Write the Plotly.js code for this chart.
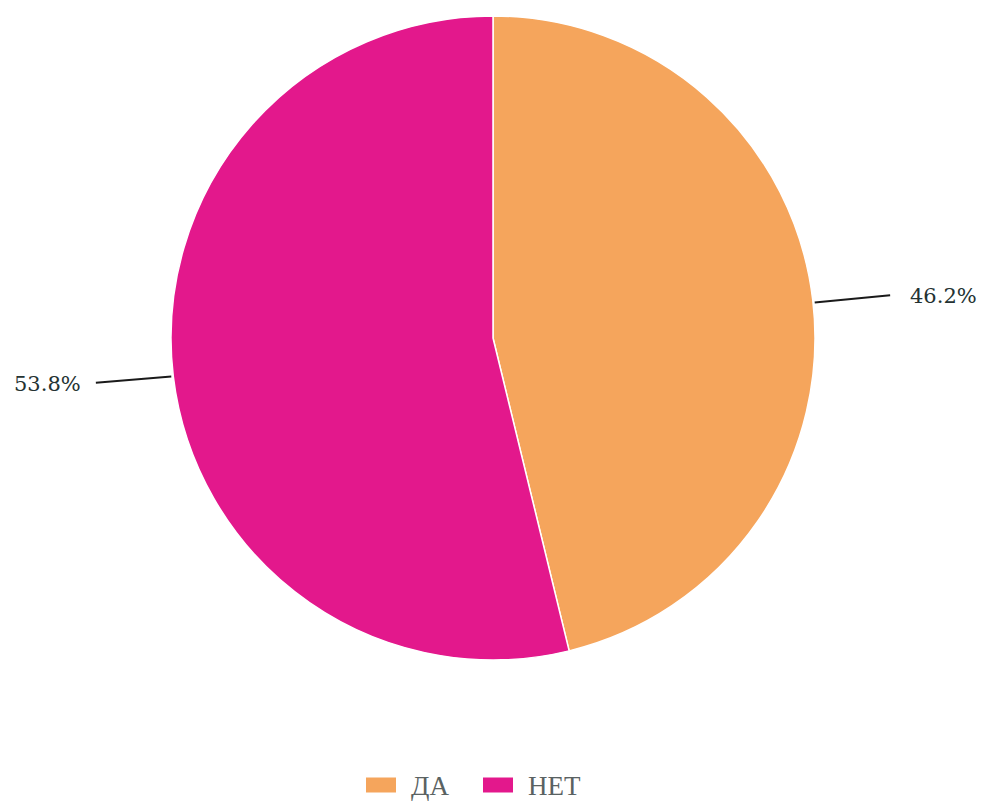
<!DOCTYPE html>
<html>
<head>
<meta charset="utf-8">
<script src="https://cdn.plot.ly/plotly-3.0.1.min.js"></script>
<style>html,body{margin:0;padding:0;background:#fff;}#chart{width:986px;height:801px;}</style>
</head>
<body>
<div id="chart"></div>
<script>
// Data
const categories = ['ДА', 'НЕТ'];
const values = [46.2, 53.8];
const colors = ['#F5A55C', '#E3188C'];
const valueLabels = ['46.2%', '53.8%'];

// Layout geometry
const W = 986, H = 801;
const margin = {l: 0, r: 0, t: 16, b: 141};
const plotW = W - margin.l - margin.r;
const plotH = H - margin.t - margin.b;
const R = Math.min(plotW, plotH) / 2;
const cxPx = plotW / 2, cyPx = plotH / 2;

// plot-area pixels -> paper coordinates
function toPaper(px, py) {
  return {x: px / plotW, y: 1 - py / plotH};
}

// Leader lines and labels computed from slice mid-angles (clockwise from 12 o'clock)
const total = values.reduce((a, b) => a + b, 0);
const shapes = [];
const annotations = [];
let cum = 0;
values.forEach((v, i) => {
  const mid = (cum + v / 2) / total * 2 * Math.PI;
  cum += v;
  const sx = Math.sin(mid), sy = -Math.cos(mid);
  const right = sx >= 0;
  const sPx = cxPx + (R + 2) * sx;
  const sPy = cyPx + (R + 2) * sy + (right ? 3 : 0);
  const endPx = cxPx + (R + 78) * sx;
  const endPy = cyPx + (R + 78) * sy + (right ? 5 : -3);
  const p0 = toPaper(sPx, sPy);
  const p1 = toPaper(endPx, endPy);
  shapes.push({type: 'line', xref: 'paper', yref: 'paper', x0: p0.x, y0: p0.y, x1: p1.x, y1: p1.y,
    line: {color: '#1a1a1a', width: 2}});
  const tp = toPaper(endPx + (right ? 18 : -13), endPy + 1);
  annotations.push({xref: 'paper', yref: 'paper', x: tp.x, y: tp.y, text: valueLabels[i],
    showarrow: false, xanchor: right ? 'left' : 'right', yanchor: 'middle',
    font: {family: 'DejaVu Serif, serif', size: 21, color: '#243232'}});
});

// Custom legend (larger swatches); positions in plot-area pixels
const legStartX = 366, legY = 785 - margin.t, swW = 30, swH = 15, itemStep = 117;
categories.forEach((c, i) => {
  const x0 = legStartX + i * itemStep;
  const a = toPaper(x0, legY - swH / 2), b = toPaper(x0 + swW, legY + swH / 2);
  shapes.push({type: 'rect', xref: 'paper', yref: 'paper', x0: a.x, y0: a.y, x1: b.x, y1: b.y,
    fillcolor: colors[i], line: {width: 0}});
  const t = toPaper(x0 + swW + 13, legY + 1);
  annotations.push({xref: 'paper', yref: 'paper', x: t.x, y: t.y, text: c, showarrow: false,
    xanchor: 'left', yanchor: 'middle',
    font: {family: 'Liberation Serif, Times New Roman, serif', size: 27, color: '#5a6262'}});
});

const trace = {
  type: 'pie',
  labels: categories,
  values: values,
  marker: {colors: colors, line: {color: '#ffffff', width: 1.5}},
  sort: false,
  direction: 'clockwise',
  rotation: 0,
  textinfo: 'none',
  hoverinfo: 'label+percent',
  showlegend: false,
  domain: {x: [0, 1], y: [0, 1]}
};

const layout = {
  width: W, height: H,
  margin: margin,
  paper_bgcolor: '#ffffff',
  showlegend: false,
  shapes: shapes,
  annotations: annotations
};

Plotly.newPlot('chart', [trace], layout, {displayModeBar: false, staticPlot: true});
</script>
</body>
</html>
